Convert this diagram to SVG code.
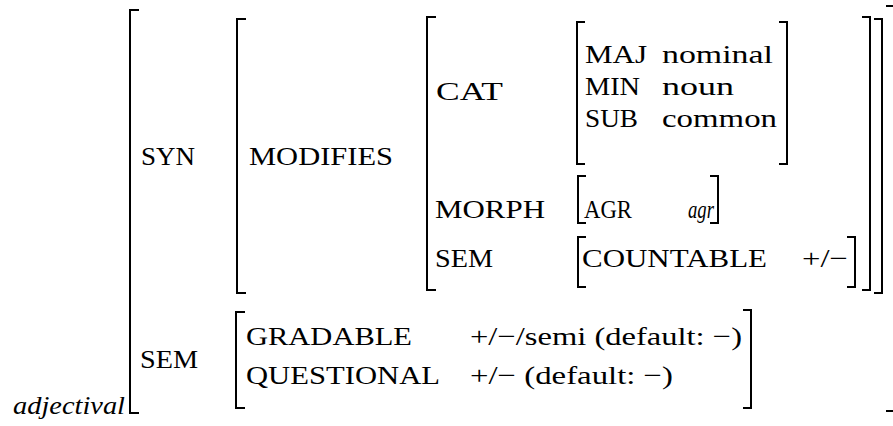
<svg xmlns="http://www.w3.org/2000/svg" width="893" height="426" viewBox="0 0 893 426">
<style>
text{font-family:'Liberation Serif','DejaVu Serif',serif;font-size:26px;fill:#000}
.i{font-style:italic}
.br{fill:none;stroke:#000;stroke-width:2}
</style>
<rect width="893" height="426" fill="#fff"/>
<g id="brackets">
<path class="br" d="M139,10 H130 V413 H139"/>
<path class="br" d="M886,6 H896 V411 H886"/>
<path class="br" d="M246,19 H237 V293 H246"/>
<path class="br" d="M874,19 H882 V293 H874"/>
<path class="br" d="M436,17 H427 V290 H436"/>
<path class="br" d="M862,17 H870 V290 H862"/>
<path class="br" d="M585,22 H577 V164 H585"/>
<path class="br" d="M779,22 H787 V164 H779"/>
<path class="br" d="M586,176 H578 V223 H586"/>
<path class="br" d="M710,176 H718 V223 H710"/>
<path class="br" d="M586,237 H578 V287 H586"/>
<path class="br" d="M847,237 H855 V287 H847"/>
<path class="br" d="M245,312 H236 V408 H245"/>
<path class="br" d="M743,310 H751 V408 H743"/>
</g>
<g id="labels" font-family="Liberation Serif, DejaVu Serif, serif">
<text class="i" x="13" y="414" textLength="112" lengthAdjust="spacingAndGlyphs">adjectival</text>
<text x="141" y="165" textLength="54" lengthAdjust="spacingAndGlyphs">SYN</text>
<text x="249" y="165" textLength="144" lengthAdjust="spacingAndGlyphs">MODIFIES</text>
<text x="436" y="100" textLength="67" lengthAdjust="spacingAndGlyphs">CAT</text>
<text x="585" y="63" textLength="62" lengthAdjust="spacingAndGlyphs">MAJ</text>
<text x="662" y="63" textLength="111" lengthAdjust="spacingAndGlyphs">nominal</text>
<text x="585" y="95" textLength="55" lengthAdjust="spacingAndGlyphs">MIN</text>
<text x="662" y="95" textLength="72" lengthAdjust="spacingAndGlyphs">noun</text>
<text x="585" y="127" textLength="53" lengthAdjust="spacingAndGlyphs">SUB</text>
<text x="662" y="127" textLength="115" lengthAdjust="spacingAndGlyphs">common</text>
<text x="435" y="218" textLength="110" lengthAdjust="spacingAndGlyphs">MORPH</text>
<text x="584" y="218" textLength="48" lengthAdjust="spacingAndGlyphs">AGR</text>
<text class="i" x="688" y="218" textLength="26" lengthAdjust="spacingAndGlyphs">agr</text>
<text x="435" y="267" textLength="58" lengthAdjust="spacingAndGlyphs">SEM</text>
<text x="582" y="267" textLength="185" lengthAdjust="spacingAndGlyphs">COUNTABLE</text>
<text x="802" y="267" textLength="46" lengthAdjust="spacingAndGlyphs">+/−</text>
<text x="140" y="368" textLength="58" lengthAdjust="spacingAndGlyphs">SEM</text>
<text x="246" y="345" textLength="166" lengthAdjust="spacingAndGlyphs">GRADABLE</text>
<text x="246" y="384" textLength="194" lengthAdjust="spacingAndGlyphs">QUESTIONAL</text>
<text x="470" y="345" textLength="272" lengthAdjust="spacingAndGlyphs">+/−/semi (default: −)</text>
<text x="470" y="384" textLength="203" lengthAdjust="spacingAndGlyphs">+/− (default: −)</text>
</g>
</svg>
